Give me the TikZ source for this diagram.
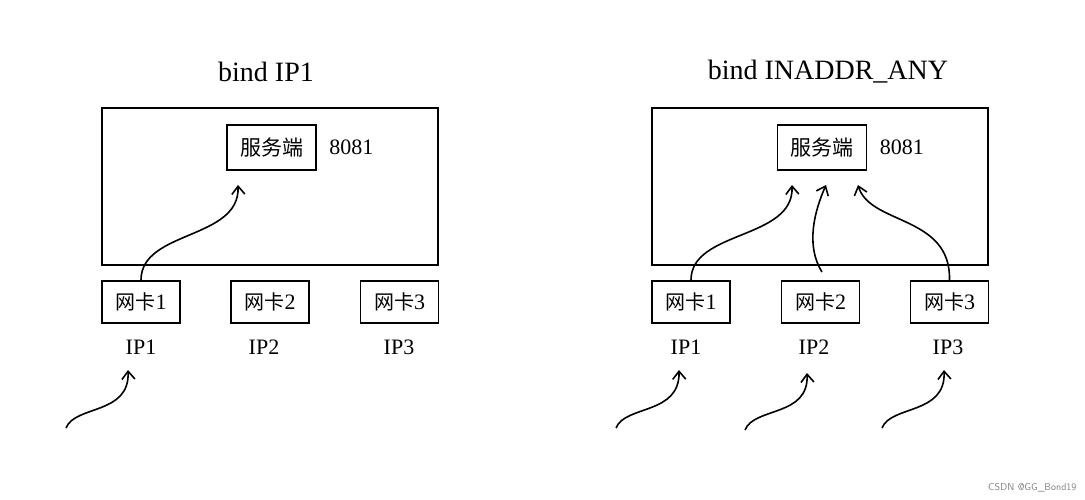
\documentclass[tikz,border=0pt]{standalone}
\usepackage{fontspec}
\setmainfont{Liberation Serif}
\newfontfamily\cjk{Noto Sans CJK SC}
\usetikzlibrary{arrows.meta,positioning}
\tikzset{
  box/.style={rectangle,draw,line width=1.8pt,inner sep=0pt},
  nic/.style={box,minimum width=78pt,minimum height=42pt,font=\fontsize{22}{22}\selectfont},
  lbl/.style={font=\fontsize{22}{22}\selectfont},
  flow/.style={line width=1.6pt,-{Straight Barb[length=8pt,width=13pt]}},
}
\begin{document}
\begin{tikzpicture}[x=1pt,y=-1pt]
\useasboundingbox (0,0) rectangle (1085,500);

% left: bind IP1
\node[font=\fontsize{28}{28}\selectfont] (t1) at (266,72) {bind IP1};
\node[box,minimum width=336pt,minimum height=157pt] (host1) at (270,186.5) {};
\node[box,minimum width=89pt,minimum height=45pt,font=\cjk\fontsize{21}{21}\selectfont] (srv1) at (271.5,147.5) {服务端};
\node[lbl,right=9pt of srv1] (port1) {8081};
\node[nic] (n11) at (141,302) {{\cjk\fontsize{20}{20}\selectfont 网卡}1};
\node[nic] (n12) at (270,302) {{\cjk\fontsize{20}{20}\selectfont 网卡}2};
\node[nic] (n13) at (399.5,302) {{\cjk\fontsize{20}{20}\selectfont 网卡}3};
\node[lbl] (ip11) at (141,347) {IP1};
\node[lbl] (ip12) at (264,347) {IP2};
\node[lbl] (ip13) at (399,347) {IP3};
\coordinate (in11) at (66,428);
\coordinate (tip11) at (128,370);

\draw[flow] (n11.north) .. controls (141,230) and (240,240) .. (238,185);
\draw[flow] (in11) .. controls (75,405) and (130,415) .. (tip11);

% right: bind INADDR_ANY
\node[font=\fontsize{28}{28}\selectfont] (t2) at (828,72) {bind INADDR\_ANY};
\node[box,minimum width=336pt,minimum height=157pt] (host2) at (820,186.5) {};
\node[box,minimum width=89pt,minimum height=45pt,font=\cjk\fontsize{21}{21}\selectfont] (srv2) at (822,147.5) {服务端};
\node[lbl,right=9pt of srv2] (port2) {8081};
\node[nic] (n21) at (691,302) {{\cjk\fontsize{20}{20}\selectfont 网卡}1};
\node[nic] (n22) at (820.5,302) {{\cjk\fontsize{20}{20}\selectfont 网卡}2};
\node[nic] (n23) at (949.5,302) {{\cjk\fontsize{20}{20}\selectfont 网卡}3};
\node[lbl] (ip21) at (686,347) {IP1};
\node[lbl] (ip22) at (814,347) {IP2};
\node[lbl] (ip23) at (948,347) {IP3};
\coordinate (src22) at (822,272);
\coordinate (in21) at (616,428);
\coordinate (in22) at (745,430);
\coordinate (in23) at (882,428);
\coordinate (tip21) at (679,370);
\coordinate (tip22) at (807,373);
\coordinate (tip23) at (944,370);

\draw[flow] (n21.north) .. controls (691,230) and (794,240) .. (792,185);
\draw[flow] (src22) .. controls (805,245) and (815,210) .. (826,185);
\draw[flow] (n23.north) .. controls (951,215) and (870,225) .. (858,185);
\draw[flow] (in21) .. controls (625,405) and (680,415) .. (tip21);
\draw[flow] (in22) .. controls (754,407) and (809,417) .. (tip22);
\draw[flow] (in23) .. controls (891,405) and (946,415) .. (tip23);

\node[font=\sffamily\fontsize{10}{10}\selectfont,text=gray,anchor=east] (mark) at (1080,488) {CSDN @GG\_Bond19};
\end{tikzpicture}
\end{document}
